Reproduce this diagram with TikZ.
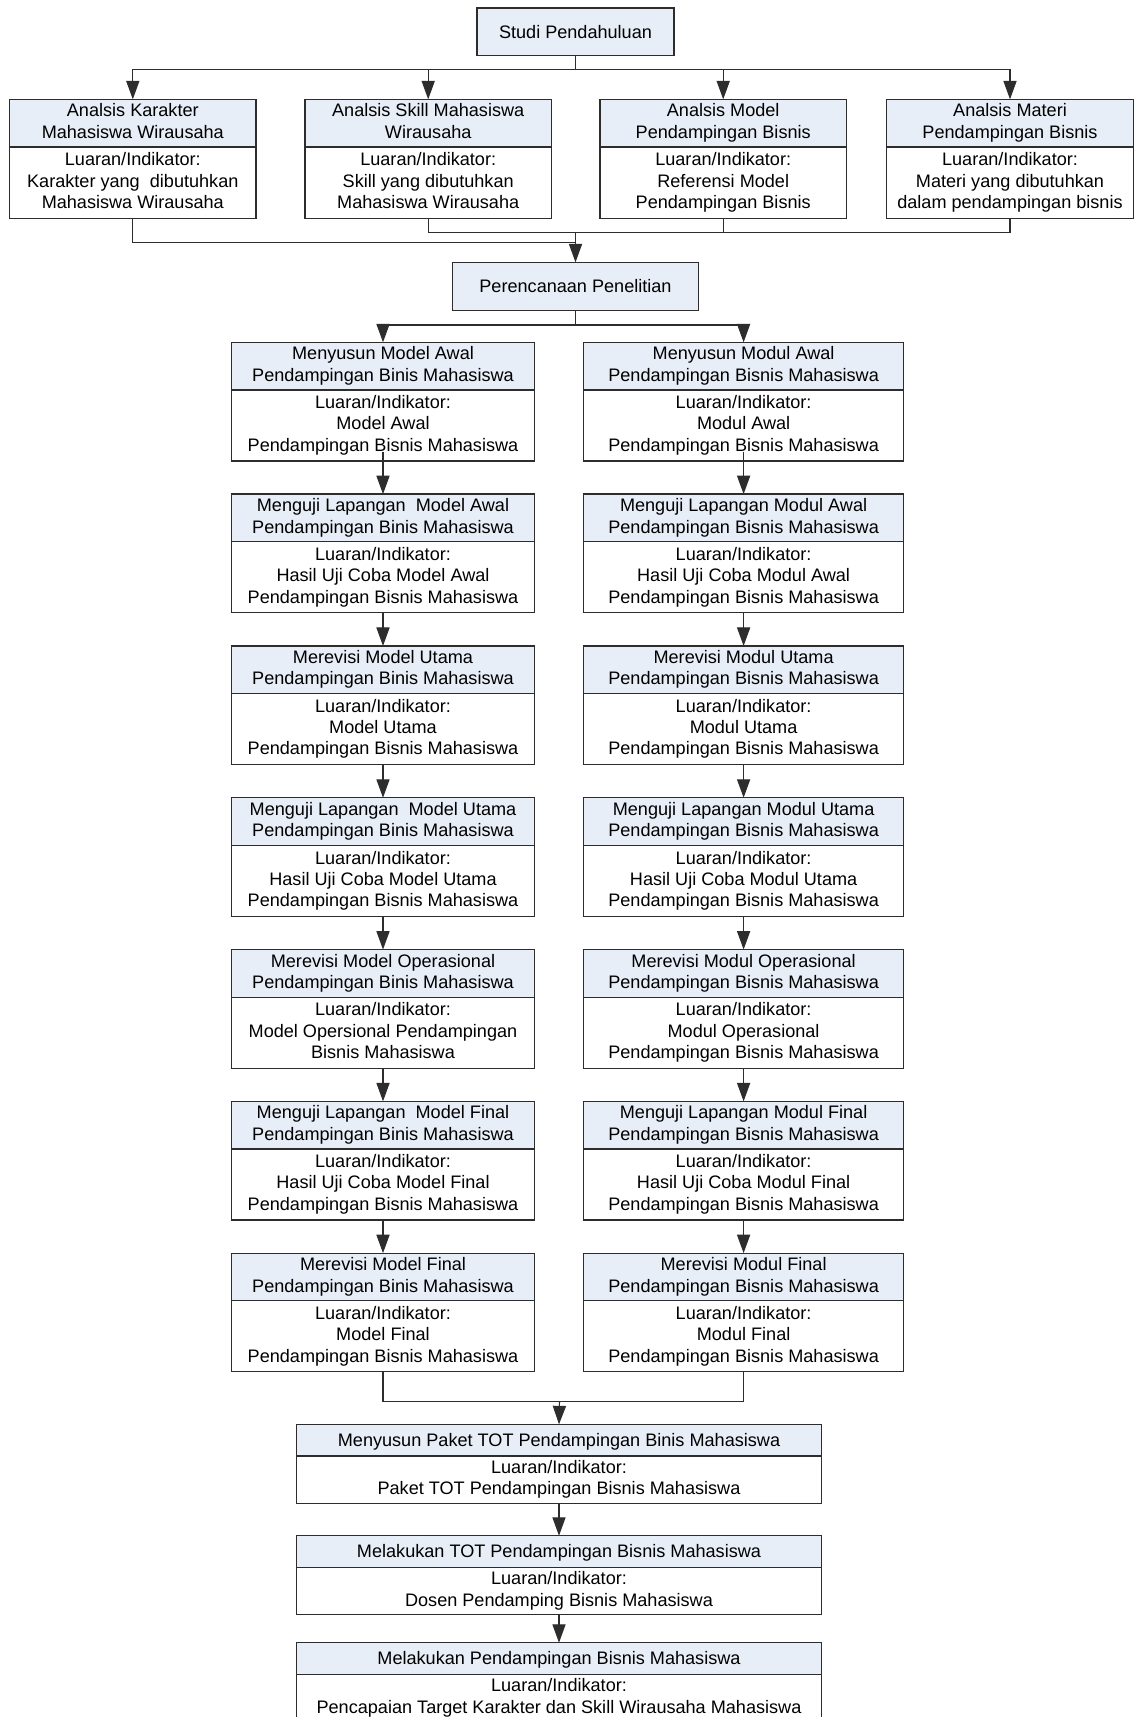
\documentclass[tikz,border=0pt]{standalone}
\usepackage{fontspec}
\setmainfont{Liberation Sans}
\usetikzlibrary{arrows.meta,calc}
\definecolor{hdrfill}{RGB}{232,238,247}
\definecolor{linec}{RGB}{45,45,45}
\newcommand{\mystrut}{\rule[-2.4pt]{0pt}{12.1pt}}
\tikzset{
  boxbase/.style={draw=linec, line width=0.7pt, rectangle, inner sep=0pt, outer sep=0pt, align=center,
    font=\fontsize{10.3}{12.1}\selectfont, anchor=north,
    execute at begin node=\mystrut, execute at end node=\mystrut},
  hdr/.style={boxbase, fill=hdrfill},
  bdy/.style={boxbase, fill=white},
  conn/.style={draw=linec, line width=0.6pt},
  arr/.style={conn, -{Triangle[length=10.5pt,width=7.5pt]}},
}
% name, x, ytop, width, header h, body h, header, body
\newcommand{\twobox}[8]{%
  \node[hdr, minimum width=#4*0.02cm, minimum height=#5*0.02cm] (#1h) at (#2,#3) {#7};
  \node[bdy, minimum width=#4*0.02cm, minimum height=#6*0.02cm] (#1b) at (#1h.south) {#8};
}
\begin{document}
\begin{tikzpicture}[x=0.02cm, y=-0.02cm]
\useasboundingbox (0,0) rectangle (1134,1717);
\fill[white] (0,0) rectangle (1134,1717);
\clip (0,0) rectangle (1134,1717);

% top
\node[hdr, minimum width=197*0.02cm, minimum height=47.3*0.02cm] (studi) at (575.5,8) {Studi Pendahuluan};

% row 1
\twobox{kar}{132.8}{99.3}{246.4}{47.7}{71.4}{Analsis Karakter\\Mahasiswa Wirausaha}{Luaran/Indikator:\\Karakter yang\ \ dibutuhkan\\Mahasiswa Wirausaha}
\twobox{skl}{428.2}{99.3}{246.4}{47.7}{71.4}{Analsis Skill Mahasiswa\\Wirausaha}{Luaran/Indikator:\\Skill yang dibutuhkan\\Mahasiswa Wirausaha}
\twobox{mod}{723.2}{99.3}{246.4}{47.7}{71.4}{Analsis Model\\Pendampingan Bisnis}{Luaran/Indikator:\\Referensi Model\\Pendampingan Bisnis}
\twobox{mat}{1010}{99.3}{246.4}{47.7}{71.4}{Analsis Materi\\Pendampingan Bisnis}{Luaran/Indikator:\\Materi yang dibutuhkan\\dalam pendampingan bisnis}

\node[hdr, minimum width=246*0.02cm, minimum height=48*0.02cm] (per) at (575.5,262.3) {Perencanaan Penelitian};

% columns
\def\LX{383}\def\LW{303.5}\def\RX{743.6}\def\RW{319.6}
\twobox{LA}{\LX}{342.3}{\LW}{47.7}{71}{Menyusun Model Awal\\Pendampingan Binis Mahasiswa}{Luaran/Indikator:\\Model Awal\\Pendampingan Bisnis Mahasiswa}
\twobox{LB}{\LX}{494.1}{\LW}{47.7}{71}{Menguji Lapangan\ \ Model Awal\\Pendampingan Binis Mahasiswa}{Luaran/Indikator:\\Hasil Uji Coba Model Awal\\Pendampingan Bisnis Mahasiswa}
\twobox{LC}{\LX}{645.9}{\LW}{47.7}{71}{Merevisi Model Utama\\Pendampingan Binis Mahasiswa}{Luaran/Indikator:\\Model Utama\\Pendampingan Bisnis Mahasiswa}
\twobox{LD}{\LX}{797.7}{\LW}{47.7}{71}{Menguji Lapangan\ \ Model Utama\\Pendampingan Binis Mahasiswa}{Luaran/Indikator:\\Hasil Uji Coba Model Utama\\Pendampingan Bisnis Mahasiswa}
\twobox{LE}{\LX}{949.5}{\LW}{47.7}{71}{Merevisi Model Operasional\\Pendampingan Binis Mahasiswa}{Luaran/Indikator:\\Model Opersional Pendampingan\\Bisnis Mahasiswa}
\twobox{LF}{\LX}{1101.3}{\LW}{47.7}{71}{Menguji Lapangan\ \ Model Final\\Pendampingan Binis Mahasiswa}{Luaran/Indikator:\\Hasil Uji Coba Model Final\\Pendampingan Bisnis Mahasiswa}
\twobox{LG}{\LX}{1253.1}{\LW}{47.7}{71}{Merevisi Model Final\\Pendampingan Binis Mahasiswa}{Luaran/Indikator:\\Model Final\\Pendampingan Bisnis Mahasiswa}

\twobox{RA}{\RX}{342.3}{\RW}{47.7}{71}{Menyusun Modul Awal\\Pendampingan Bisnis Mahasiswa}{Luaran/Indikator:\\Modul Awal\\Pendampingan Bisnis Mahasiswa}
\twobox{RB}{\RX}{494.1}{\RW}{47.7}{71}{Menguji Lapangan Modul Awal\\Pendampingan Bisnis Mahasiswa}{Luaran/Indikator:\\Hasil Uji Coba Modul Awal\\Pendampingan Bisnis Mahasiswa}
\twobox{RC}{\RX}{645.9}{\RW}{47.7}{71}{Merevisi Modul Utama\\Pendampingan Bisnis Mahasiswa}{Luaran/Indikator:\\Modul Utama\\Pendampingan Bisnis Mahasiswa}
\twobox{RD}{\RX}{797.7}{\RW}{47.7}{71}{Menguji Lapangan Modul Utama\\Pendampingan Bisnis Mahasiswa}{Luaran/Indikator:\\Hasil Uji Coba Modul Utama\\Pendampingan Bisnis Mahasiswa}
\twobox{RE}{\RX}{949.5}{\RW}{47.7}{71}{Merevisi Modul Operasional\\Pendampingan Bisnis Mahasiswa}{Luaran/Indikator:\\Modul Operasional\\Pendampingan Bisnis Mahasiswa}
\twobox{RF}{\RX}{1101.3}{\RW}{47.7}{71}{Menguji Lapangan Modul Final\\Pendampingan Bisnis Mahasiswa}{Luaran/Indikator:\\Hasil Uji Coba Modul Final\\Pendampingan Bisnis Mahasiswa}
\twobox{RG}{\RX}{1253.1}{\RW}{47.7}{71}{Merevisi Modul Final\\Pendampingan Bisnis Mahasiswa}{Luaran/Indikator:\\Modul Final\\Pendampingan Bisnis Mahasiswa}

% bottom
\twobox{pak}{559}{1424.3}{525.3}{31.7}{47.3}{Menyusun Paket TOT Pendampingan Binis Mahasiswa}{Luaran/Indikator:\\Paket TOT Pendampingan Bisnis Mahasiswa}
\twobox{tot}{559}{1535.7}{525.3}{31.7}{47.3}{Melakukan TOT Pendampingan Bisnis Mahasiswa}{Luaran/Indikator:\\Dosen Pendamping Bisnis Mahasiswa}
\twobox{pen}{559}{1642.7}{525.3}{31.7}{47.3}{Melakukan Pendampingan Bisnis Mahasiswa}{Luaran/Indikator:\\Pencapaian Target Karakter dan Skill Wirausaha Mahasiswa}

% branch points
\coordinate (br) at (575.5,69.3);
\coordinate (m1) at (575.5,232.7);
\coordinate (m2) at (575.5,242.7);
\coordinate (p1) at (575.5,325);
\coordinate (g1) at (559.5,1401.7);

% connectors top
\draw[conn] (studi.south) -- (br);
\draw[arr] (br) -| (karh.north);
\draw[arr] (br) -| (sklh.north);
\draw[arr] (br) -| (modh.north);
\draw[arr] (br) -| (math.north);

\draw[conn] (sklb.south) |- (m1);
\draw[conn] (modb.south) |- (m1);
\draw[conn] (matb.south) |- (m1);
\draw[conn] (karb.south) |- (m2);
\draw[arr] (m1) -- (per.north);

\draw[conn] (per.south) -- (p1);
\draw[arr] (p1) -| (LAh.north);
\draw[arr] (p1) -| (RAh.north);

% column connectors
\draw[arr] ([yshift=5pt]LAb.south) -- (LBh.north);
\draw[arr] ([yshift=5pt]RAb.south) -- (RBh.north);
\foreach \a/\b in {B/C,C/D,D/E,E/F,F/G}{
  \draw[arr] (L\a b.south) -- (L\b h.north);
  \draw[arr] (R\a b.south) -- (R\b h.north);
}

\draw[conn] (LGb.south) |- (g1);
\draw[conn] (RGb.south) |- (g1);
\draw[arr] (g1) -- (pakh.north);
\draw[arr] (pakb.south) -- (toth.north);
\draw[arr] (totb.south) -- (penh.north);
\end{tikzpicture}
\end{document}
